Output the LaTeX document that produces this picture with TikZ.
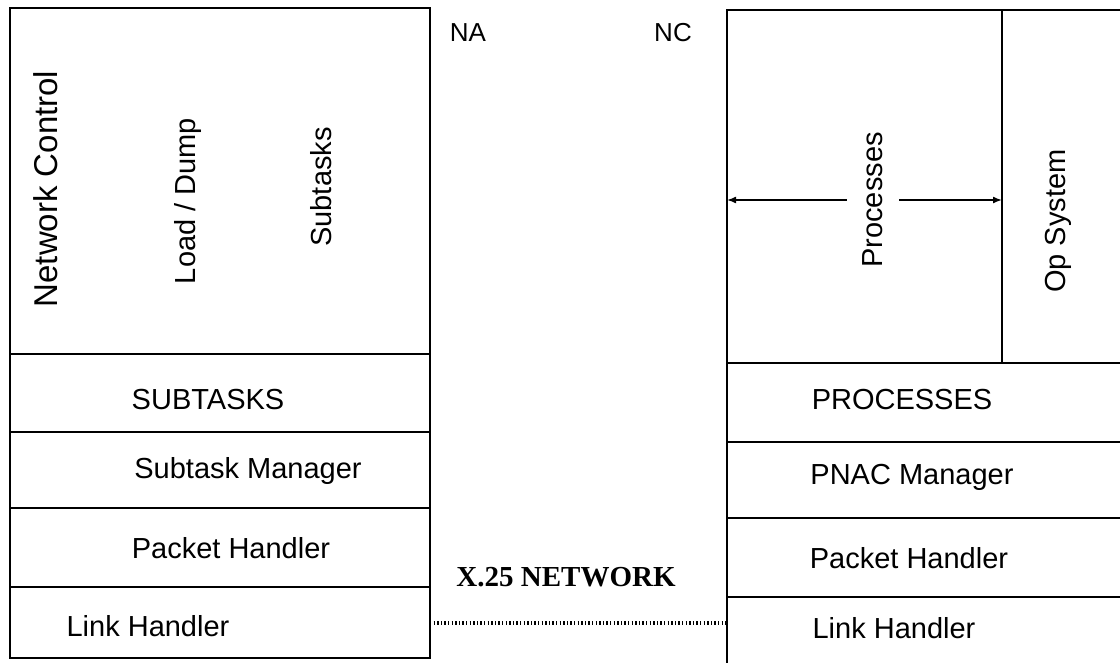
\documentclass[tikz,border=0pt]{standalone}
\usepackage{fontspec}
\setmainfont{Liberation Sans}
\newfontfamily\netfont{Liberation Serif}
\usetikzlibrary{arrows.meta,positioning}
\tikzset{
  >={Latex[length=9pt,width=7pt]},
  layer/.style={draw, line width=1.8pt, outer sep=0pt, inner sep=0pt},
  txt/.style={font=\fontsize{29}{34}\selectfont, inner sep=0pt},
  vtxt/.style={txt, rotate=90},
  side/.style={font=\fontsize{26}{30}\selectfont, inner sep=0pt},
  net/.style={line width=4pt, dash pattern=on 1.4pt off 2.2pt},
  flow/.style={->, line width=1.5pt},
}
\begin{document}
\begin{tikzpicture}[x=1pt,y=-1pt]
  \clip (0,0) rectangle (1120,662);
  % NA stack
  \node[layer, minimum width=420pt, minimum height=346pt, anchor=north west] (ltop) at (10,8) {};
  \node[layer, minimum width=420pt, minimum height=78pt, below=0pt of ltop] (lsub) {};
  \node[layer, minimum width=420pt, minimum height=76pt, below=0pt of lsub] (lman) {};
  \node[layer, minimum width=420pt, minimum height=79pt, below=0pt of lman] (lpkt) {};
  \node[layer, minimum width=420pt, minimum height=71pt, below=0pt of lpkt] (llnk) {};
  \node[vtxt, font=\fontsize{33}{38}\selectfont] (netctl) at (46,189) {Network Control};
  \node[vtxt] (load) at (188,201) {Load / Dump};
  \node[vtxt] (subt) at (321,187) {Subtasks};
  \node[txt] (tsub) at (208,400) {SUBTASKS};
  \node[txt] (tman) at (248,471) {Subtask Manager};
  \node[txt] (tpkt) at (231,548) {Packet Handler};
  \node[txt] (tlnk) at (148,626) {Link Handler};
  % NC stack (runs off the page)
  \node[layer, minimum width=275pt, minimum height=353pt, anchor=north west] (rproc) at (727,10) {};
  \node[layer, minimum width=130pt, minimum height=353pt, right=0pt of rproc] (rops) {};
  \node[layer, minimum width=405pt, minimum height=79pt, below=0pt of rproc.south west, anchor=north west] (rprc) {};
  \node[layer, minimum width=405pt, minimum height=76pt, below=0pt of rprc] (rman) {};
  \node[layer, minimum width=405pt, minimum height=79pt, below=0pt of rman] (rpkt) {};
  \node[layer, minimum width=405pt, minimum height=90pt, below=0pt of rpkt] (rlnk) {};
  \node[vtxt, inner sep=16pt] (procs) at (873,200) {Processes};
  \node[vtxt] (opsys) at (1058,221) {Op System};
  \node[txt] (tprc) at (902,400) {PROCESSES};
  \node[txt] (tpnac) at (912,477) {PNAC Manager};
  \node[txt] (trpkt) at (909,558) {Packet Handler};
  \node[txt] (trlnk) at (894,628) {Link Handler};
  \draw[flow] (procs) -- (procs -| rproc.west);
  \draw[flow] (procs) -- (procs -| rproc.east);
  % labels and link
  \node[side] (na) at (468,33) {NA};
  \node[side] (nc) at (673,33) {NC};
  \node[font=\netfont\bfseries\fontsize{29}{32}\selectfont, inner sep=0pt] (x25) at (566,577) {X.25 NETWORK};
  \draw[net] (llnk.east) -- (llnk.east -| rlnk.west);
\end{tikzpicture}
\end{document}
